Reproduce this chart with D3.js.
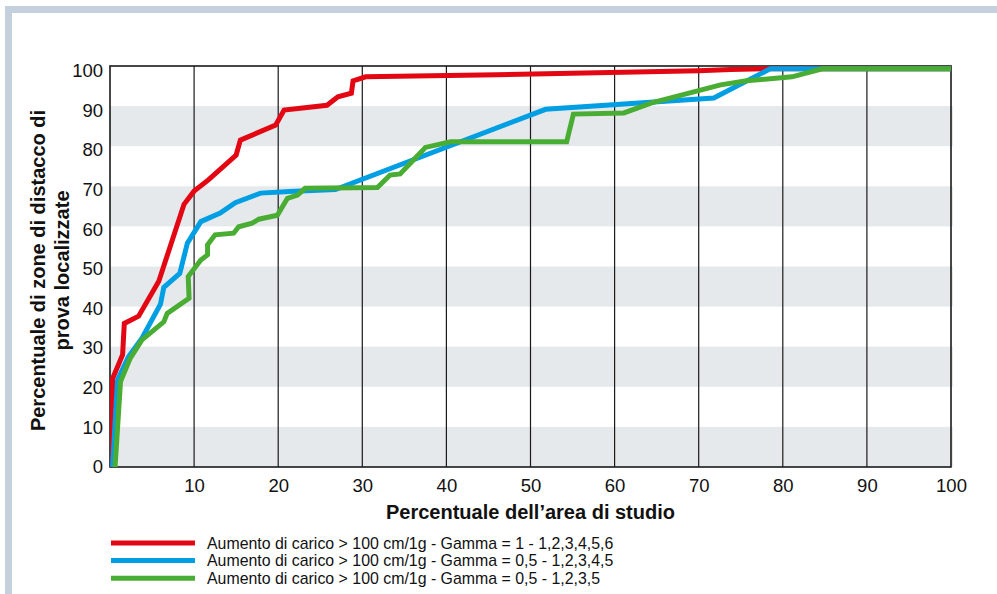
<!DOCTYPE html>
<html><head><meta charset="utf-8">
<script src="https://cdn.jsdelivr.net/npm/d3@7"></script>
<style>
html,body{margin:0;padding:0;background:#fff;}
svg{display:block;font-family:"Liberation Sans",Arial,Helvetica,sans-serif;}
</style></head>
<body>
<script>
// ---- data ----
const xTicks = [10,20,30,40,50,60,70,80,90,100];
const yTicks = [0,10,20,30,40,50,60,70,80,90,100];
const bands = [[0,10],[20,30],[40,50],[60,70],[80,90]];
const seriesNames = [
  "Aumento di carico > 100 cm/1g - Gamma = 1 - 1,2,3,4,5,6",
  "Aumento di carico > 100 cm/1g - Gamma = 0,5 - 1,2,3,4,5",
  "Aumento di carico > 100 cm/1g - Gamma = 0,5 - 1,2,3,5"
];
const seriesColors = ["#e30613","#009fe3","#4aad33"];
const redData = [[0.3,0],[0.3,22],[1.5,28],[1.7,35.8],[3.4,37.6],[5.8,46.3],[8.8,65.5],[10,68.8],[11.7,71.6],[15,77.8],[15.5,81.5],[19.7,85.3],[20.7,89],[25.8,90.2],[27.1,92.3],[28.7,93.2],[28.9,96.3],[30.4,97.3],[46,97.8],[70,98.8],[73.8,99.1],[78,99.3],[100,99.3]];
const blueData = [[0.3,0],[0.9,21.7],[2.2,27.5],[3.8,32.1],[6.0,40.6],[6.4,44.8],[8.3,48.3],[9.2,55.8],[10.8,61.2],[13.1,63.3],[14.9,65.9],[17.9,68.3],[21.3,68.7],[26.8,69.2],[51.8,89.2],[71.8,92],[78.5,99.3],[100,99.3]];
const greenData = [[0.6,0],[1.25,21.3],[2.4,27.1],[3.8,31.7],[6.4,36.2],[6.8,38.3],[9.4,42.1],[9.3,47.5],[10.8,51.6],[11.6,52.9],[11.6,55.4],[12.5,57.9],[14.7,58.3],[15.3,59.9],[16.9,60.8],[17.7,61.8],[19.9,62.8],[21.1,67],[22.3,67.8],[23.2,69.5],[31.8,69.7],[33.3,72.8],[34.5,73.1],[37.5,79.7],[40.5,81.1],[54.3,81.1],[55.1,88],[61.1,88.3],[64.4,90.8],[72.6,95.3],[75.7,96.3],[81.1,97.3],[84.7,99.3],[100,99.3]];
const xTitle = "Percentuale dell\u2019area di studio";
const yTitle = ["Percentuale di zone di distacco di","prova localizzate"];

// ---- layout ----
const W = 997, H = 594;
const L = 110, R = 951, T = 66, B = 467;
const svg = d3.select("body").append("svg").attr("width",W).attr("height",H);

// frame
svg.append("rect").attr("x",5).attr("y",6).attr("width",W-5).attr("height",7).attr("fill","#c4d0dc");
svg.append("rect").attr("x",5).attr("y",6).attr("width",7).attr("height",H-6).attr("fill","#c4d0dc");

const x = d3.scaleLinear().domain([0,100]).range([L,R]);
const y = d3.scaleLinear().domain([0,100]).range([B,T]);
// tick labels in the original sit on a slightly compressed scale
const yLab = d3.scaleLinear().domain([0,100]).range([B,T+4.5]);

// bands
svg.append("g").selectAll("rect").data(bands).join("rect")
  .attr("x",L).attr("width",R-L+2)
  .attr("y",d=>y(d[1])).attr("height",d=>y(d[0])-y(d[1]))
  .attr("fill","#e6e9ec");

// vertical grid lines
svg.append("g").selectAll("line").data(xTicks.filter(d=>d<100)).join("line")
  .attr("x1",d=>x(d)).attr("x2",d=>x(d)).attr("y1",T).attr("y2",B)
  .attr("stroke","#1a1a1a").attr("stroke-width",1.2);

// frame of plot
svg.append("rect").attr("x",L).attr("y",T).attr("width",R-L).attr("height",B-T)
  .attr("fill","none").attr("stroke","#1a1a1a").attr("stroke-width",1.6);

// axes
const xAxis = d3.axisBottom(x).tickValues(xTicks).tickSize(0).tickPadding(12);
const gx = svg.append("g").attr("transform",`translate(0,${B})`).call(xAxis);
gx.select(".domain").remove();
gx.selectAll("text").attr("font-size",18.5).attr("fill","#111").attr("font-family","Liberation Sans, Arial, sans-serif");

const yAxis = d3.axisLeft(yLab).tickValues(yTicks).tickSize(0).tickPadding(7);
const gy = svg.append("g").attr("transform",`translate(${L},0)`).call(yAxis);
gy.select(".domain").remove();
gy.selectAll("text").attr("font-size",18.5).attr("fill","#111").attr("font-family","Liberation Sans, Arial, sans-serif");

// series
const line = d3.line().x(d=>x(d[0])).y(d=>y(d[1]));
const all = [redData, blueData, greenData];
const order = [0,1,2];
svg.append("g").selectAll("path").data(order).join("path")
  .attr("d",i=>line(all[i])).attr("fill","none")
  .attr("stroke",i=>seriesColors[i]).attr("stroke-width",5)
  .attr("stroke-linejoin","miter").attr("stroke-miterlimit",2);

// titles
svg.append("text").attr("x",(L+R)/2).attr("y",519).attr("text-anchor","middle")
  .attr("font-size",20).attr("font-weight","bold").attr("fill","#111").text(xTitle);
const yt = svg.append("text").attr("transform",`translate(45,${(T+B)/2+4}) rotate(-90)`)
  .attr("text-anchor","middle").attr("font-size",20).attr("font-weight","bold").attr("fill","#111");
yt.selectAll("tspan").data(yTitle).join("tspan").attr("x",0).attr("dy",(d,i)=>i===0?0:24).text(d=>d);

// legend
const lg = svg.append("g").selectAll("g").data(order).join("g")
  .attr("transform",i=>`translate(0,${543+i*17.6})`);
lg.append("line").attr("x1",111).attr("x2",195).attr("y1",0).attr("y2",0)
  .attr("stroke",i=>seriesColors[i]).attr("stroke-width",5);
lg.append("text").attr("x",207).attr("y",5.5).attr("font-size",15.9).attr("fill","#111").text(i=>seriesNames[i]);
</script>
</body></html>
